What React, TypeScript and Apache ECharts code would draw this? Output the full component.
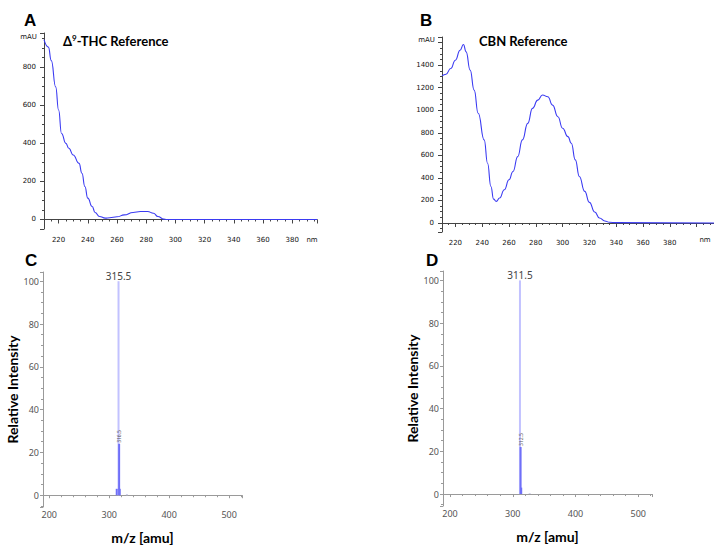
import React, { useEffect, useRef } from "react";
import * as echarts from "echarts";

// Panel A: Δ9-THC UV spectrum
const thcWavelength = [210, 213, 215, 218, 220, 222, 225, 227, 230, 234, 236, 238, 240, 243, 245, 248, 252, 255, 260, 265, 271, 276, 281, 285, 288, 292, 294, 397];
const thcAbsorbance = [945, 906, 835, 697, 575, 452, 400, 374, 339, 295, 243, 173, 112, 68, 37, 16, 7, 9, 14, 24, 37, 42, 42, 33, 16, 2, 0, 0];

// Panel B: CBN UV spectrum
const cbnWavelength = [210, 213, 216.5, 220, 223.5, 226, 228, 231, 234, 237, 241.5, 244, 246.5, 248.5, 250.5, 253, 256.5, 260, 263, 266.5, 270, 274, 277.5, 281.5, 285, 289, 292.5, 296.5, 300, 304, 306.5, 309.5, 312.5, 316.5, 320, 324, 327.5, 331.5, 335, 340, 413];
const cbnAbsorbance = [1305, 1320, 1370, 1444, 1533, 1583, 1518, 1356, 1179, 973, 737, 530, 324, 212, 192, 221, 295, 383, 457, 589, 737, 884, 1017, 1090, 1135, 1120, 1046, 943, 840, 766, 707, 560, 413, 280, 183, 97, 44, 18, 6, 3, 0];

// Panel C: Δ9-THC mass spectrum
const thcMz = [312.5, 315.5, 316.5, 317.5, 329.5];
const thcIntensity = [3, 100, 24, 3, 0.5];
const thcPeakLabels = ["", "315.5", "316.5", "", ""];

// Panel D: CBN mass spectrum
const cbnMz = [311.5, 312.5, 313.5, 327];
const cbnIntensity = [100, 22, 3, 0.4];
const cbnPeakLabels = ["311.5", "312.5", "", ""];

const panelLetters = ["A", "B", "C", "D"];
const uvTitles = ["{t|Δ}{sup|9}{t|-THC Reference}", "{t|CBN Reference}"];
const uvYUnit = "mAU";
const uvXUnit = "nm";
const msYName = "Relative Intensity";
const msXName = "m/z [amu]";

const UV_LINE = "#3b3bf2";
const UV_AXIS = "#444";
const MS_AXIS = "#9a9a9a";

function uvXAxis(gridIndex: number, max: number) {
  return {
    type: "value",
    gridIndex,
    min: 210,
    max,
    minInterval: 20,
    maxInterval: 20,
    axisLine: { show: true, lineStyle: { color: UV_AXIS, width: 1 } },
    axisTick: { show: true, length: 4, lineStyle: { color: UV_AXIS } },
    minorTick: { show: true, splitNumber: 4, length: 2, lineStyle: { color: UV_AXIS } },
    splitLine: { show: false },
    axisLabel: {
      show: true,
      showMinLabel: false,
      showMaxLabel: false,
      margin: 7,
      fontFamily: "DejaVu Sans",
      fontSize: 7,
      color: "#111",
      formatter: (v: number) => (v >= 400 ? "" : String(v)),
    },
  };
}

function uvYAxis(gridIndex: number, min: number, max: number, hideFrom: number) {
  return {
    type: "value",
    gridIndex,
    min,
    max,
    minInterval: 200,
    maxInterval: 200,
    axisLine: { show: true, lineStyle: { color: UV_AXIS, width: 1 } },
    axisTick: { show: true, length: 4, lineStyle: { color: UV_AXIS } },
    minorTick: { show: true, splitNumber: 4, length: 2, lineStyle: { color: UV_AXIS } },
    splitLine: { show: false },
    axisLabel: {
      show: true,
      showMinLabel: false,
      showMaxLabel: false,
      margin: 8,
      fontFamily: "DejaVu Sans",
      fontSize: 7,
      color: "#111",
      formatter: (v: number) => (v >= hideFrom ? "" : String(v)),
    },
  };
}

function msXAxis(gridIndex: number, min: number, max: number) {
  return {
    type: "value",
    gridIndex,
    min,
    max,
    minInterval: 100,
    maxInterval: 100,
    name: msXName,
    nameLocation: "middle",
    nameGap: 30,
    nameTextStyle: { fontFamily: "Lato", fontWeight: "bold", fontSize: 14, color: "#000", verticalAlign: "middle" },
    axisLine: { show: true, lineStyle: { color: MS_AXIS, width: 1 } },
    axisTick: { show: true, length: 3, lineStyle: { color: MS_AXIS } },
    minorTick: { show: true, splitNumber: 5, length: 2, lineStyle: { color: MS_AXIS } },
    splitLine: { show: false },
    axisLabel: {
      show: true,
      showMinLabel: false,
      showMaxLabel: false,
      margin: 3,
      fontFamily: "Noto Sans",
      fontSize: 9,
      color: "#555",
    },
  };
}

function msYAxis(gridIndex: number, min: number, max: number) {
  return {
    type: "value",
    gridIndex,
    min,
    max,
    minInterval: 20,
    maxInterval: 20,
    name: msYName,
    nameLocation: "middle",
    nameRotate: 90,
    nameGap: 26,
    nameTextStyle: { fontFamily: "Lato", fontWeight: "bold", fontSize: 14, color: "#000", verticalAlign: "middle" },
    axisLine: { show: true, lineStyle: { color: MS_AXIS, width: 1 } },
    axisTick: { show: true, length: 3, lineStyle: { color: MS_AXIS } },
    minorTick: { show: true, splitNumber: 4, length: 2, lineStyle: { color: MS_AXIS } },
    splitLine: { show: false },
    axisLabel: {
      show: true,
      showMinLabel: false,
      showMaxLabel: false,
      margin: 4,
      fontFamily: "Noto Sans",
      fontSize: 9,
      color: "#555",
    },
  };
}

function msSeries(index: number, mz: number[], intensity: number[], labels: string[]) {
  const maxVal = Math.max(...intensity);
  const items = mz.map((m, i) => {
    const isMain = intensity[i] === maxVal;
    const item: any = {
      value: [m, intensity[i]],
      itemStyle: { color: isMain ? "#c2c2ff" : intensity[i] < 1 ? "#c8c8e8" : "#6f6ff8" },
    };
    if (labels[i]) {
      item.label = isMain
        ? {
            show: true,
            position: "top",
            distance: 0,
            formatter: labels[i],
            fontFamily: "Noto Sans",
            fontSize: 10,
            color: "#444",
          }
        : {
            show: true,
            position: "top",
            distance: 1,
            rotate: 90,
            align: "left",
            verticalAlign: "middle",
            formatter: labels[i],
            fontFamily: "Noto Sans",
            fontSize: 5,
            color: "#555",
          };
    }
    return item;
  });
  // main (light) first so the darker peaks are drawn on top
  const sorted = [...items].sort((a, b) => b.value[1] - a.value[1]);
  return {
    type: "bar",
    xAxisIndex: index,
    yAxisIndex: index,
    barWidth: 2,
    data: sorted,
    z: 2,
  };
}

export default function App() {
  const ref = useRef<HTMLDivElement>(null);

  useEffect(() => {
    if (!ref.current) return;
    const chart = echarts.init(ref.current, undefined, { renderer: "svg" });

    const letterStyle = { fontFamily: "Liberation Sans", fontWeight: "bold", fontSize: 17, fill: "#000" };
    const titleRich = {
      t: { fontFamily: "Lato", fontWeight: "bold", fontSize: 13, color: "#000", verticalAlign: "bottom" },
      sup: { fontFamily: "Lato", fontWeight: "bold", fontSize: 8, color: "#000", verticalAlign: "top", padding: [0, 0, 0, 0] },
    };
    const unitStyle = { fontFamily: "DejaVu Sans", fontSize: 7, fill: "#111" };

    const option: any = {
      animation: false,
      backgroundColor: "#fff",
      grid: [
        { left: 44, top: 33, width: 273, height: 196, outerBoundsMode: "none" },
        { left: 442, top: 37, width: 272, height: 195, outerBoundsMode: "none" },
        { left: 43, top: 272, width: 199, height: 235, outerBoundsMode: "none" },
        { left: 443, top: 271, width: 209, height: 235, outerBoundsMode: "none" },
      ],
      xAxis: [uvXAxis(0, 397), uvXAxis(1, 413), msXAxis(2, 189.5, 521.5), msXAxis(3, 188.8, 522)],
      yAxis: [uvYAxis(0, -50, 980, 1000), uvYAxis(1, -80, 1650, 1600), msYAxis(2, -5.5, 104.3), msYAxis(3, -5.6, 104.4)],
      series: [
        {
          type: "line",
          xAxisIndex: 0,
          yAxisIndex: 0,
          data: thcWavelength.map((w, i) => [w, thcAbsorbance[i]]),
          showSymbol: false,
          smooth: 0.5,
          smoothMonotone: "x",
          lineStyle: { color: UV_LINE, width: 1.1 },
        },
        {
          type: "line",
          xAxisIndex: 1,
          yAxisIndex: 1,
          data: cbnWavelength.map((w, i) => [w, cbnAbsorbance[i]]),
          showSymbol: false,
          smooth: 0.5,
          smoothMonotone: "x",
          lineStyle: { color: UV_LINE, width: 1.1 },
        },
        msSeries(2, thcMz, thcIntensity, thcPeakLabels),
        msSeries(3, cbnMz, cbnIntensity, cbnPeakLabels),
      ],
      graphic: [
        { type: "text", left: 24, top: 12, style: { text: panelLetters[0], ...letterStyle } },
        { type: "text", left: 420, top: 12, style: { text: panelLetters[1], ...letterStyle } },
        { type: "text", left: 25, top: 252, style: { text: panelLetters[2], ...letterStyle } },
        { type: "text", left: 426, top: 252, style: { text: panelLetters[3], ...letterStyle } },
        { type: "text", left: 63, top: 34, style: { text: uvTitles[0], rich: titleRich } },
        { type: "text", left: 479, top: 34, style: { text: uvTitles[1], rich: titleRich } },
        { type: "text", x: 37, y: 37, style: { text: uvYUnit, align: "right", verticalAlign: "middle", ...unitStyle } },
        { type: "text", x: 435, y: 40, style: { text: uvYUnit, align: "right", verticalAlign: "middle", ...unitStyle } },
        { type: "text", x: 312, y: 239.5, style: { text: uvXUnit, align: "center", verticalAlign: "middle", ...unitStyle } },
        { type: "text", x: 705, y: 239.5, style: { text: uvXUnit, align: "center", verticalAlign: "middle", ...unitStyle } },
      ],
    };

    chart.setOption(option);
    return () => chart.dispose();
  }, []);

  return (
    <div
      ref={ref}
      style={{ position: "fixed", left: 0, top: 0, width: 714, height: 545, background: "#fff" }}
    />
  );
}
